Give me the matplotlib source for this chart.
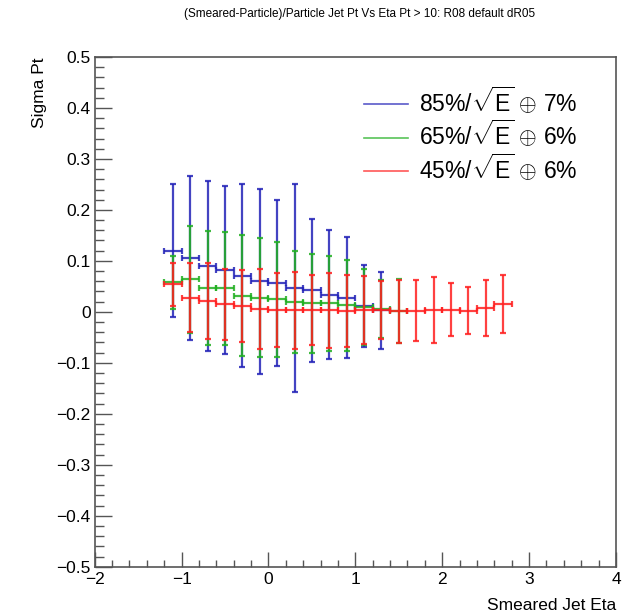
import matplotlib
matplotlib.use('Agg')
import matplotlib.pyplot as plt
from matplotlib.ticker import MultipleLocator, FuncFormatter
from matplotlib.lines import Line2D

plt.rcParams['font.family'] = ['Liberation Sans', 'DejaVu Sans']
plt.rcParams['mathtext.fontset'] = 'custom'
plt.rcParams['mathtext.rm'] = 'Liberation Sans'

# bin centres (eta), half bin width 0.1
eta_85 = [-1.1, -0.9, -0.7, -0.5, -0.3, -0.1, 0.1, 0.3, 0.5, 0.7, 0.9, 1.1, 1.3]
sig_85 = [0.120, 0.105, 0.090, 0.082, 0.071, 0.060, 0.056, 0.047, 0.042, 0.034, 0.028, 0.011, 0.003]
err_85 = [0.130, 0.161, 0.167, 0.165, 0.180, 0.181, 0.163, 0.204, 0.141, 0.126, 0.118, 0.080, 0.075]

eta_65 = [-1.1, -0.9, -0.7, -0.5, -0.3, -0.1, 0.1, 0.3, 0.5, 0.7, 0.9, 1.1, 1.3, 1.5]
sig_65 = [0.058, 0.064, 0.046, 0.046, 0.032, 0.028, 0.025, 0.019, 0.017, 0.017, 0.013, 0.0095, 0.005, 0.001]
err_65 = [0.052, 0.105, 0.112, 0.111, 0.119, 0.116, 0.113, 0.100, 0.097, 0.093, 0.089, 0.074, 0.057, 0.063]

eta_45 = [-1.1, -0.9, -0.7, -0.5, -0.3, -0.1, 0.1, 0.3, 0.5, 0.7,
          0.9, 1.1, 1.3, 1.5, 1.7, 1.9, 2.1, 2.3, 2.5, 2.7]
sig_45 = [0.054, 0.028, 0.021, 0.015, 0.011, 0.006, 0.004, 0.003, 0.003, 0.003,
          0.002, 0.004, 0.003, 0.001, 0.002, 0.004, 0.004, 0.002, 0.008, 0.015]
err_45 = [0.042, 0.067, 0.075, 0.070, 0.071, 0.079, 0.072, 0.075, 0.069, 0.074,
          0.070, 0.067, 0.057, 0.062, 0.060, 0.065, 0.052, 0.046, 0.055, 0.057]

labels = [r'85%/$\sqrt{\mathrm{E}}$ $\oplus$ 7%',
          r'65%/$\sqrt{\mathrm{E}}$ $\oplus$ 6%',
          r'45%/$\sqrt{\mathrm{E}}$ $\oplus$ 6%']
colors = ['#2323b8', '#22b022', '#ff2020']

W, H = 623, 614
fig = plt.figure(figsize=(W / 100, H / 100), dpi=100)
x0, x1, y0, y1 = 94.7, 616, 57, 566.7
ax = fig.add_axes([x0 / W, 1 - y1 / H, (x1 - x0) / W, (y1 - y0) / H])

series = [(eta_85, sig_85, err_85), (eta_65, sig_65, err_65), (eta_45, sig_45, err_45)]
for (x, y, e), c in zip(series, colors):
    ax.errorbar(x, y, xerr=0.1, yerr=e, fmt='none', ecolor=c, elinewidth=1.6,
                capsize=2.5, capthick=1.6, alpha=0.85)

ax.set_xlim(-2, 4)
ax.set_ylim(-0.5, 0.5)
ax.xaxis.set_major_locator(MultipleLocator(1))
ax.xaxis.set_minor_locator(MultipleLocator(0.2))
ax.yaxis.set_major_locator(MultipleLocator(0.1))
ax.yaxis.set_minor_locator(MultipleLocator(0.02))
fmt = FuncFormatter(lambda v, p: ('%g' % round(v, 3)).replace('-', '\u2212'))
ax.xaxis.set_major_formatter(fmt)
ax.yaxis.set_major_formatter(fmt)
ax.tick_params(which='both', direction='in', top=False, right=False,
               labelsize=12.5, color='#555555', width=1.0)
ax.tick_params(axis='x', which='major', length=10.5, pad=4)
ax.tick_params(axis='x', which='minor', length=5)
ax.tick_params(axis='y', which='major', length=12, pad=3)
ax.tick_params(axis='y', which='minor', length=6.5)
for s in ax.spines.values():
    s.set_color('#555555')
    s.set_linewidth(1.2)

ax.set_xlabel('Smeared Jet Eta', loc='right', fontsize=12.5, labelpad=8)
ax.set_ylabel('Sigma Pt', loc='top', fontsize=12.5)
ax.yaxis.set_label_coords(-0.0915, 1.0)

handles = [Line2D([], [], color=c, lw=1.2, alpha=0.75) for c in colors]
ax.legend(handles, labels, loc='upper left',
          bbox_to_anchor=((364 - x0) / (x1 - x0), 1 - (86 - y0) / (y1 - y0)),
          frameon=False, fontsize=16.5, handlelength=1.9, handletextpad=0.5,
          labelspacing=0.1, borderpad=0, borderaxespad=0)

fig.text(360 / W, 1 - 14 / H, '(Smeared-Particle)/Particle Jet Pt Vs Eta Pt > 10: R08 default dR05',
         ha='center', va='center', fontsize=8.5)

fig.savefig('out.png', dpi=100)
